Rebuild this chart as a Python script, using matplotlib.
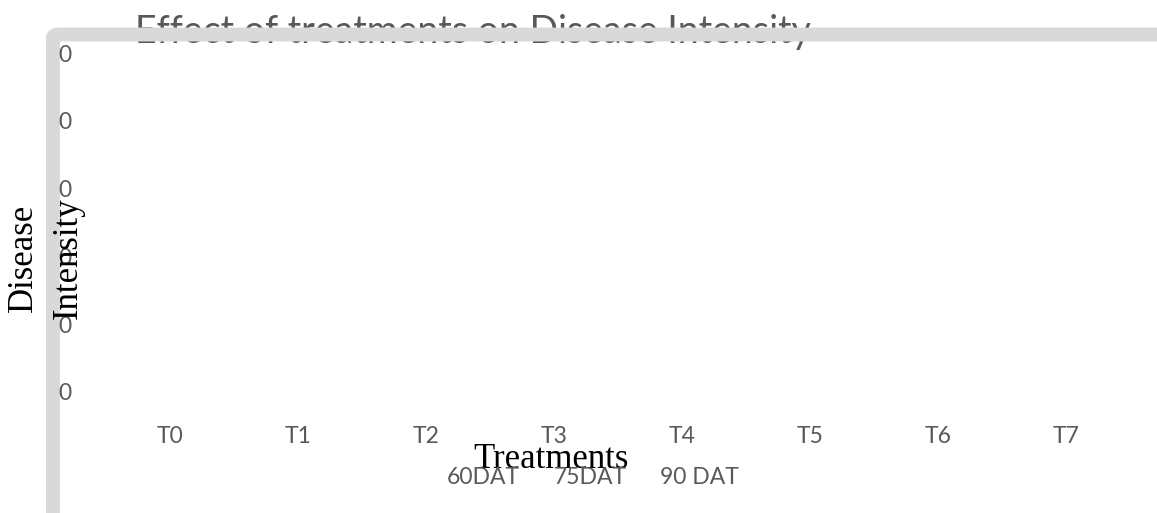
import numpy as np
import matplotlib
matplotlib.use("Agg")
from matplotlib import pyplot as plt
from matplotlib.patches import FancyBboxPatch, Patch

# data (no visible bars, every axis label shows 0)
treatments = ["T0", "T1", "T2", "T3", "T4", "T5", "T6", "T7"]
series_names = ["60DAT", "75DAT", "90 DAT"]
dat60 = [0, 0, 0, 0, 0, 0, 0, 0]
dat75 = [0, 0, 0, 0, 0, 0, 0, 0]
dat90 = [0, 0, 0, 0, 0, 0, 0, 0]
y_ticks = [0, 1, 2, 3, 4, 5]
y_tick_labels = ["0", "0", "0", "0", "0", "0"]

W, H = 1157, 513
grey_text = "#595959"
sans = "Lato"
serif = "Liberation Serif"

fig = plt.figure(figsize=(W / 100, H / 100), dpi=100)
fig.patch.set_facecolor("white")

def fx(px):
    return px / W

def fy(py):
    return 1 - py / H

# plot area in pixels: x 106..1130, y 53..392
ax = fig.add_axes([fx(106), fy(392), fx(1024), 339 / H])
ax.set_zorder(3)
ax.patch.set_alpha(0)

x = np.arange(len(treatments))
bw = 0.2
for i, vals in enumerate([dat60, dat75, dat90]):
    ax.bar(x + (i - 1) * bw, vals, bw, color="none", edgecolor="none")

ax.set_xlim(-0.5, len(treatments) - 0.5)
ax.set_ylim(y_ticks[0], y_ticks[-1])
ax.set_xticks(x)
ax.set_xticklabels(treatments)
ax.set_yticks(y_ticks)
ax.set_yticklabels(y_tick_labels)
for s in ax.spines.values():
    s.set_visible(False)
ax.tick_params(axis="y", length=0, pad=24.5, labelsize=16.5, labelcolor=grey_text)
ax.tick_params(axis="x", length=0, pad=24.5, labelsize=16.5, labelcolor=grey_text)
for lab in ax.get_xticklabels() + ax.get_yticklabels():
    lab.set_fontfamily(sans)

ax.set_ylabel("Disease\nIntensity", fontsize=25, family=serif, color="black",
              va="center", ha="center", multialignment="center", linespacing=1.45)
ax.yaxis.set_label_coords((46 - 106) / 1024, (392 - 258) / 339)
ax.set_xlabel("Treatments", fontsize=25, family=serif, color="black", va="center")
ax.xaxis.set_label_coords((551 - 106) / 1024, (392 - 460) / 339)

handles = [Patch(facecolor="none", edgecolor="none") for _ in series_names]
leg = fig.legend(handles, series_names, loc="center", ncol=3,
                 bbox_to_anchor=(fx(593), fy(478)), frameon=False,
                 handlelength=0, handletextpad=0, columnspacing=1.45,
                 prop={"family": sans, "size": 16.5})
for t in leg.get_texts():
    t.set_color(grey_text)

fig.text(fx(135), fy(43), "Effect of treatments on Disease Intensity",
         fontsize=27, family=sans, color=grey_text,
         ha="left", va="baseline", zorder=1)

# chart-area border, larger than the canvas
border = FancyBboxPatch((fx(53), fy(600)), fx(1300), (600 - 34.5) / H,
                        boxstyle="round,pad=0,rounding_size=0.006",
                        transform=fig.transFigure, facecolor="none",
                        edgecolor="#d9d9d9", linewidth=10, zorder=2)
fig.patches.append(border)

fig.savefig("out.png", dpi=100)
